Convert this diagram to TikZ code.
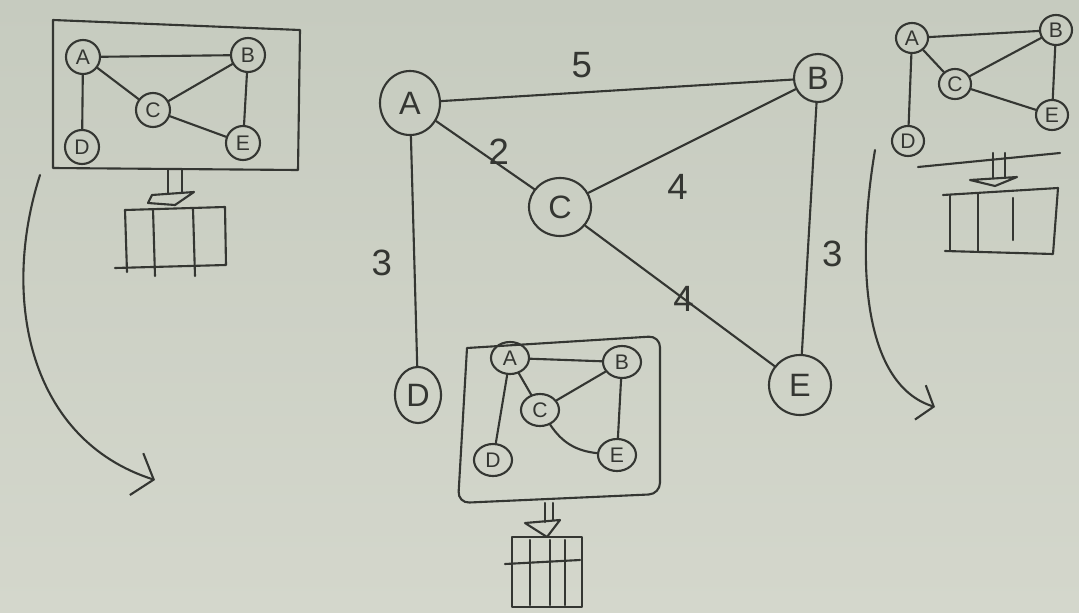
\documentclass[tikz,border=0pt]{standalone}
\usepackage{fontspec}
\setsansfont{Liberation Sans}
\usetikzlibrary{shapes.geometric,arrows.meta,positioning}

\definecolor{paperTop}{RGB}{198,203,191}
\definecolor{paperBot}{RGB}{212,215,204}
\definecolor{ink}{RGB}{52,54,50}

\tikzset{
    pen/.style={draw=ink, line width=1.5pt, line cap=round, line join=round},
    vtx/.style={ellipse, pen, inner sep=0pt, minimum width=1.4cm, minimum height=1.45cm,
        font=\sffamily\fontsize{23}{23}\selectfont, text=ink},
    mini/.style={vtx, minimum width=0.85cm, minimum height=0.85cm,
        font=\sffamily\fontsize{15}{15}\selectfont},
    wt/.style={font=\sffamily\fontsize{26}{26}\selectfont, text=ink, inner sep=1pt},
}

\begin{document}
\begin{tikzpicture}[x=0.025cm, y=-0.025cm]
    % sheet of paper
    \shade[top color=paperTop, bottom color=paperBot] (0,0) rectangle (1079,612);
    \useasboundingbox (0,0) rectangle (1079,612);

    % weighted graph in the middle
    \node[vtx, minimum width=1.5cm, minimum height=1.6cm] (A) at (410,103) {A};
    \node[vtx, minimum width=1.2cm, minimum height=1.2cm] (B) at (818,78) {B};
    \node[vtx, minimum width=1.55cm, minimum height=1.45cm] (C) at (560,207) {C};
    \node[vtx, minimum width=1.15cm, minimum height=1.4cm] (D) at (418,395) {D};
    \node[vtx, minimum width=1.55cm, minimum height=1.5cm] (E) at (800,385) {E};

    \draw[pen] (A) -- node[wt, pos=.4, above=0.3cm] {5} (B);
    \draw[pen] (A) -- node[wt, pos=.45, right=0.15cm] {2} (C);
    \draw[pen] (C) -- node[wt, pos=.43, below=0.6cm] {4} (B);
    \draw[pen] (A) -- node[wt, pos=.55, left=0.5cm] {3} (D);
    \draw[pen] (C) -- node[wt, pos=.52] {4} (E);
    \draw[pen] (B) -- node[wt, pos=.6, right=0.3cm] {3} (E);

    % small copy, top left, in its frame
    \draw[pen] (53,20) -- (300,30) -- (298,170) -- (53,168) -- cycle;
    \foreach \n/\x/\y in {A/83/57, B/248/55, C/153/110, D/82/147, E/243/143}
        \node[mini] (l\n) at (\x,\y) {\n};
    \foreach \a/\b in {A/B, A/C, C/B, A/D, C/E, B/E}
        \draw[pen] (l\a) -- (l\b);
    \draw[pen] (168,170) -- (168,194) (182,170) -- (182,193);
    \draw[pen] (152,195) -- (194,192) -- (175,205) -- (148,203) -- cycle;
    \draw[pen] (125,210) -- (225,207) -- (226,265) -- (115,268);
    \draw[pen] (125,210) -- (127,272);
    \foreach \xx in {153,193}
        \draw[pen] (\xx,209) -- (\xx+2,276);

    % small copy, top right
    \foreach \n/\x/\y in {A/912/38, B/1056/30, C/955/84, D/908/141, E/1052/115}
        \node[mini, minimum width=0.8cm, minimum height=0.75cm] (r\n) at (\x,\y) {\n};
    \foreach \a/\b in {A/B, A/C, C/B, A/D, C/E, B/E}
        \draw[pen] (r\a) -- (r\b);
    \draw[pen] (918,167) -- (1060,153);
    \draw[pen] (993,153) -- (993,178) (1005,153) -- (1005,177);
    \draw[pen] (970,180) -- (1017,177) -- (995,186) -- cycle;
    \draw[pen] (943,195) -- (1058,188) -- (1053,254) -- (945,251);
    \draw[pen] (950,195) -- (950,251);
    \draw[pen] (978,194) -- (978,252);
    \draw[pen] (1013,198) -- (1013,240);

    % small copy, bottom middle, in its frame
    \draw[pen, rounded corners=8] (467,348) -- (660,336) -- (660,494) -- (458,503) -- (467,348);
    \foreach \n/\x/\y in {A/510/358, B/622/362, C/540/410, D/493/460, E/617/455}
        \node[mini, minimum width=0.95cm, minimum height=0.8cm] (b\n) at (\x,\y) {\n};
    \foreach \a/\b in {A/B, A/C, C/B, A/D, B/E}
        \draw[pen] (b\a) -- (b\b);
    \draw[pen] (bC) to[bend right=25] (bE);
    \draw[pen] (545,503) -- (545,522) (553,503) -- (553,520);
    \draw[pen] (525,523) -- (560,520) -- (547,537) -- cycle;
    \draw[pen] (512,537) rectangle (582,607);
    \foreach \xx in {530,550,565}
        \draw[pen] (\xx,540) -- (\xx,605);
    \draw[pen] (505,564) -- (580,560);

    % curved arrows down the sides
    \draw[pen, -{Straight Barb[length=0.45cm, width=1.1cm]}]
        (40,175) .. controls (0,300) and (30,440) .. (155,480);
    \draw[pen, -{Straight Barb[length=0.35cm, width=0.9cm]}]
        (875,150) .. controls (855,270) and (865,385) .. (935,407);
\end{tikzpicture}
\end{document}
